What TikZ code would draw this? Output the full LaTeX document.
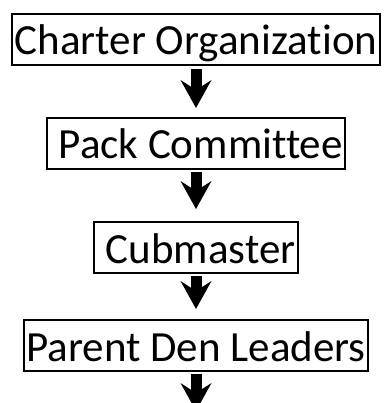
\documentclass[tikz,border=0pt]{standalone}
\usepackage{fontspec}
\setmainfont{Carlito}[Ligatures=NoCommon]
\usetikzlibrary{positioning,arrows.meta}
\tikzset{
    box/.style={draw, line width=2pt, inner xsep=2.5pt, inner ysep=0pt,
        text height=41pt, text depth=10pt, font=\fontsize{43}{50}\selectfont},
    lead/.style={execute at begin node={\hspace*{.22em}}},
    down/.style={line width=11pt,
        -{Stealth[length=28pt, width=31pt, inset=10pt, line width=0pt]}}
}
\begin{document}
\begin{tikzpicture}[x=1pt, y=1pt]
    \clip (0,0) rectangle (384,-403);
    \node[box] (charter) at (196,-39.5) {Charter Organization};
    \node[box, lead, below=51pt of charter] (committee) {Pack Committee};
    \node[box, lead, below=51pt of committee] (cubmaster) {Cubmaster};
    \node[box, below=45pt of cubmaster] (leaders) {Parent Den Leaders};
    \coordinate[below=39pt of leaders] (next);

    \draw[down, shorten <=3pt, shorten >=9pt] (charter) -- (committee);
    \draw[down, shorten <=2pt, shorten >=12pt] (committee) -- (cubmaster);
    \draw[down, shorten <=2pt, shorten >=10pt] (cubmaster) -- (leaders);
    \draw[down, shorten <=2pt] (leaders) -- (next);
\end{tikzpicture}
\end{document}
